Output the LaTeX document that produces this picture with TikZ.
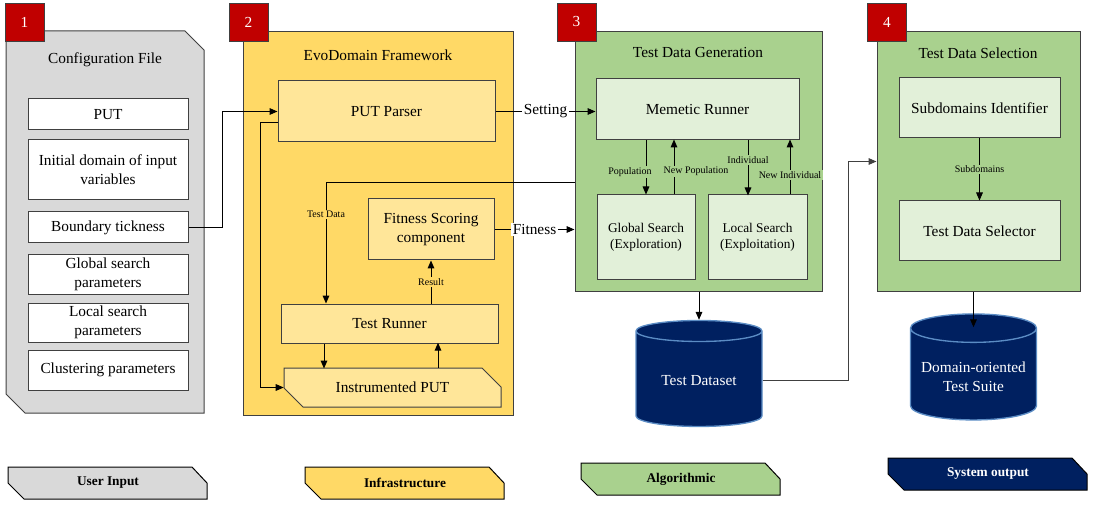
\documentclass[tikz,border=0pt]{standalone}
\usepackage{fontspec}
\setmainfont{Liberation Serif}
\usetikzlibrary{arrows.meta, shapes.geometric}

\definecolor{badgered}{HTML}{C00000}
\definecolor{usergray}{HTML}{D9D9D9}
\definecolor{infrayellow}{HTML}{FFD966}
\definecolor{infralight}{HTML}{FFE699}
\definecolor{algogreen}{HTML}{A9D18E}
\definecolor{algolight}{HTML}{E2F0D9}
\definecolor{outnavy}{HTML}{002060}
\definecolor{cylblue}{HTML}{5B8CC4}
\definecolor{edgegray}{HTML}{404040}

\newcommand{\px}{0.75pt}
\newcommand{\bigtxt}{\fontsize{11.5}{14}\selectfont}
\newcommand{\smalltxt}{\fontsize{7.5}{9}\selectfont}

\begin{document}
\begin{tikzpicture}[x=0.75pt, y=-0.75pt,
    >={Triangle[length=6pt, width=5pt]},
    panel/.style={draw=edgegray, line width=\px, inner sep=0pt},
    box/.style={draw=edgegray, line width=\px, align=center, font=\bigtxt, inner sep=1pt},
    cfgbox/.style={box, fill=white, minimum width=160*\px},
    infrabox/.style={box, fill=infralight},
    algobox/.style={box, fill=algolight},
    title/.style={font=\bigtxt},
    lbl/.style={font=\smalltxt, inner sep=1pt},
    conn/.style={->, line width=\px},
    store/.style={cylinder, shape border rotate=90, aspect=0.25, draw=cylblue, line width=1pt,
        fill=outnavy, text=white, align=center, font=\bigtxt,
        minimum width=126*\px, minimum height=106*\px},
    badge/.style={draw=edgegray, fill=badgered, text=white, font=\bigtxt,
        minimum width=39*\px, minimum height=38*\px, inner sep=0pt},
    legend/.style={draw=black, line width=\px}]

    \useasboundingbox (0,0) rectangle (1093,506);

    \filldraw[panel, fill=usergray] (6,31) -- (185,31) -- (204,50) -- (204,413) -- (25,413) -- (6,394) -- cycle;
    \node[title] (cfgtitle) at (105,60) {Configuration File};
    \node[cfgbox, minimum height=31*\px] (put) at (108,114.5) {PUT};
    \node[cfgbox, minimum height=60*\px] (init) at (108,170) {Initial domain of input\\variables};
    \node[cfgbox, minimum height=31*\px] (bound) at (108,227.5) {Boundary tickness};
    \node[cfgbox, minimum height=39*\px] (glob) at (108,274.5) {Global search\\parameters};
    \node[cfgbox, minimum height=39*\px] (loc) at (108,322.5) {Local search\\parameters};
    \node[cfgbox, minimum height=40*\px] (clus) at (108,370) {Clustering parameters};

    \node[panel, fill=infrayellow, minimum width=270*\px, minimum height=383*\px] (evo) at (378,223.5) {};
    \node[title] (evotitle) at (378,55) {EvoDomain Framework};
    \node[infrabox, minimum width=217*\px, minimum height=61*\px] (parser) at (386.5,111.5) {PUT Parser};
    \node[infrabox, minimum width=126*\px, minimum height=61*\px] (fitness) at (431,229.5) {Fitness Scoring\\component};
    \node[infrabox, minimum width=217*\px, minimum height=39*\px] (runner) at (389.5,323.5) {Test Runner};
    \filldraw[draw=edgegray, line width=\px, fill=infralight] (284,368) -- (482,368) -- (501,387) -- (501,407) -- (303,407) -- (284,388) -- cycle;
    \node[font=\bigtxt, minimum width=217*\px, minimum height=39*\px, inner sep=0pt] (iput) at (392.5,387.5) {Instrumented PUT};

    \node[panel, fill=algogreen, minimum width=247*\px, minimum height=259*\px] (gen) at (698.5,161.5) {};
    \node[title] (gentitle) at (698,53) {Test Data Generation};
    \node[algobox, minimum width=203*\px, minimum height=61*\px] (memetic) at (697.5,109.5) {Memetic Runner};
    \node[algobox, minimum width=98*\px, minimum height=84*\px, font=\fontsize{10}{12}\selectfont] (global) at (646,237) {Global Search\\(Exploration)};
    \node[algobox, minimum width=99*\px, minimum height=84*\px, font=\fontsize{10}{12}\selectfont] (local) at (757.5,237) {Local Search\\(Exploitation)};

    \node[panel, fill=algogreen, minimum width=203*\px, minimum height=259*\px] (sel) at (978.5,161.5) {};
    \node[title] (seltitle) at (978,53) {Test Data Selection};
    \node[algobox, minimum width=161*\px, minimum height=60*\px] (subid) at (979.5,108) {Subdomains Identifier};
    \node[algobox, minimum width=161*\px, minimum height=60*\px] (selector) at (979.5,231) {Test Data Selector};

    \node[store] (dataset) at (699,381) {Test Dataset};
    \node[store] (suite) at (973.5,377) {Domain-oriented\\Test Suite};

    \foreach \n/\x in {1/24.5, 2/248.5, 3/576.5, 4/887}
        {
          \node[badge] (badge\n) at (\x,22) {\n};
        };

    \draw[conn] (bound.east) -- ++(34,0) |- (parser.west);
    \draw[conn] (parser.east) -- node[fill=white, font=\bigtxt, inner sep=1pt] {Setting} (parser.east -| memetic.west);
    \draw[conn] (fitness.east) -- node[fill=white, font=\bigtxt, inner sep=1pt] {Fitness} (fitness.east -| gen.west);
    \draw[conn] ([yshift=-21.5*\px]gen.west) -| node[lbl, fill=infrayellow, pos=0.63] {Test Data} ([xshift=-63.5*\px]runner.north);
    \draw[conn] (runner.north -| fitness.south) -- node[lbl, fill=infrayellow] {Result} (fitness.south);
    \draw[conn] ([xshift=-65.5*\px]runner.south) -- ++(0,25);
    \draw[conn] ([xshift=45.5*\px]iput.north) -- ++(0,-25);
    \draw[conn] ([yshift=-11.5*\px]parser.west) -- ++(-17,0) |- (iput.west);

    \draw[conn] (memetic.south -| global.north) -- node[lbl, fill=algogreen, pos=0.58, xshift=-16*\px] {Population} (global.north);
    \draw[conn] ([xshift=28*\px]global.north) -- node[lbl, fill=algogreen, pos=0.42, xshift=22*\px] {New Population} ++(0,-55);
    \draw[conn] ([xshift=50.5*\px]memetic.south) -- node[lbl, fill=algogreen, pos=0.35] {Individual} ++(0,55);
    \draw[conn] ([xshift=32.5*\px]local.north) -- node[lbl, fill=algogreen, pos=0.35] {New Individual} ++(0,-55);
    \draw[conn] (gen.south -| dataset.north) -- (dataset.north);
    \draw[conn, draw=edgegray] (dataset.east) -- ++(86,0) |- (sel.west);

    \draw[conn] (subid.south) -- node[lbl, fill=algogreen] {Subdomains} (selector.north);
    \draw[conn] (sel.south -| suite.north) -- ([yshift=-14*\px]suite.north);

    \foreach \x/\y/\col/\lab/\tc [count=\k] in {8/467/usergray/User Input/black, 305/467/infrayellow/Infrastructure/black, 581/463/algogreen/Algorithmic/black, 888/458/outnavy/System output/white}
        {
          \filldraw[legend, fill=\col] (\x,\y) -- (\x+184,\y) -- (\x+199,\y+16) -- (\x+199,\y+32) -- (\x+16,\y+32) -- (\x,\y+16) -- cycle;
          \node[font=\bfseries\fontsize{10}{12}\selectfont, text=\tc] (key\k) at (\x+100,\y+16) {\lab};
        };
\end{tikzpicture}
\end{document}
